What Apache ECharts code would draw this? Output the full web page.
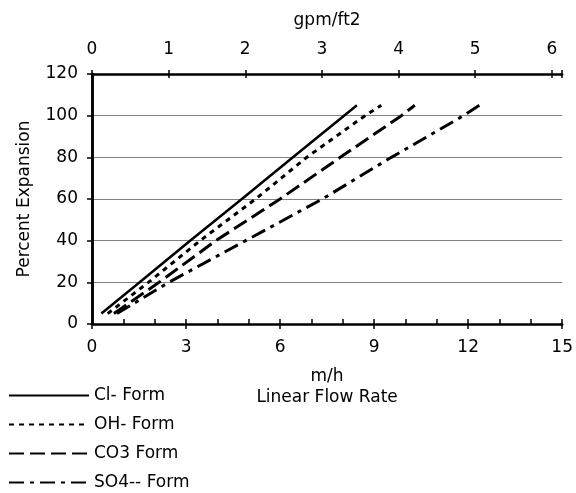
<!DOCTYPE html>
<html>
<head>
<meta charset="utf-8">
<script src="https://cdn.jsdelivr.net/npm/echarts@6/dist/echarts.min.js"></script>
<style>html,body{margin:0;padding:0;background:#fff;}#c{width:576px;height:493px;}</style>
</head>
<body>
<div id="c"></div>
<script>
var expansion = [5, 20, 40, 60, 80, 100, 105];
var clForm  = [0.3, 1.52, 3.13, 4.78, 6.41, 8.04, 8.45];
var ohForm  = [0.5, 1.80, 3.45, 5.22, 6.85, 8.71, 9.23];
var co3Form = [0.7, 2.14, 3.95, 6.00, 7.92, 9.87, 10.3];
var so4Form = [0.8, 2.45, 4.90, 7.35, 9.55, 11.85, 12.36];
var seriesNames = ['Cl- Form', 'OH- Form', 'CO3 Form', 'SO4-- Form'];
var mhTicks = [0, 3, 6, 9, 12, 15];
var gpmTicks = [0, 1, 2, 3, 4, 5, 6];
var M_PER_GPM = 2.4448; // 1 gpm/ft2 = 2.4448 m/h

function pairs(xs) { return xs.map(function (x, i) { return [x, expansion[i]]; }); }

var FONT = 'DejaVu Sans';
var FS = 17;
var chart = echarts.init(document.getElementById('c'));
var styles = [
  { type: 'solid', width: 2.5 },
  { type: [5, 5], width: 3 },
  { type: [15, 6], width: 3 },
  { type: [15, 6, 4, 6], width: 3 }
];
var datas = [clForm, ohForm, co3Form, so4Form];

chart.setOption({
  animation: false,
  backgroundColor: '#fff',
  grid: { left: 92, right: 11, top: 74, bottom: 169 },
  legend: {
    orient: 'vertical', left: 8, top: 387, padding: 0,
    itemWidth: 80, itemHeight: 14, itemGap: 12,
    itemStyle: { opacity: 0, borderWidth: 0 },
    textStyle: { fontFamily: FONT, fontSize: FS, color: '#000' },
    data: seriesNames
  },
  xAxis: [
    {
      type: 'value', position: 'bottom', min: 0, max: 15, interval: 3,
      axisLine: { show: true, lineStyle: { color: '#000', width: 2.5 } },
      axisTick: { show: true, inside: false, length: 5, lineStyle: { color: '#000', width: 1.5 } },
      axisLabel: { margin: 15, fontFamily: FONT, fontSize: FS, color: '#000',
        formatter: function (v) { return mhTicks.indexOf(v) >= 0 ? String(v) : ''; } },
      splitLine: { show: false },
      name: 'm/h', nameLocation: 'middle', nameGap: 44,
      nameTextStyle: { fontFamily: FONT, fontSize: FS, color: '#000' }
    },
    {
      type: 'value', position: 'bottom', min: 0, max: 15, interval: 1,
      axisLine: { show: false },
      axisTick: { show: true, inside: true, length: 5, lineStyle: { color: '#000', width: 1.5 } },
      axisLabel: { show: false },
      splitLine: { show: false },
      name: 'Linear Flow Rate', nameLocation: 'middle', nameGap: 65,
      nameTextStyle: { fontFamily: FONT, fontSize: FS, color: '#000' }
    },
    {
      type: 'value', position: 'top', min: 0, max: 15 / M_PER_GPM, interval: 1,
      axisLine: { show: true, lineStyle: { color: '#000', width: 2.5 } },
      axisTick: { show: true, inside: false, length: 4, lineStyle: { color: '#000', width: 1.5 } },
      axisLabel: { margin: 16, fontFamily: FONT, fontSize: FS, color: '#000',
        formatter: function (v) { return gpmTicks.indexOf(v) >= 0 ? String(v) : ''; } },
      splitLine: { show: false },
      name: 'gpm/ft2', nameLocation: 'middle', nameGap: 45,
      nameTextStyle: { fontFamily: FONT, fontSize: FS, color: '#000' }
    },
    {
      type: 'value', position: 'top', min: 0, max: 15 / M_PER_GPM, interval: 1,
      axisLine: { show: false },
      axisTick: { show: true, inside: true, length: 4, lineStyle: { color: '#000', width: 1.5 } },
      axisLabel: { show: false },
      splitLine: { show: false }
    }
  ],
  yAxis: [
    {
      type: 'value', position: 'left', min: 0, max: 120, interval: 20,
      axisLine: { show: true, lineStyle: { color: '#000', width: 2.5 } },
      axisTick: { show: true, inside: false, length: 5, lineStyle: { color: '#000', width: 1.5 } },
      axisLabel: { margin: 14, fontFamily: FONT, fontSize: FS, color: '#000' },
      splitLine: { show: true, lineStyle: { color: '#808080', width: 1 } },
      name: 'Percent Expansion', nameLocation: 'middle', nameGap: 59,
      nameTextStyle: { fontFamily: FONT, fontSize: FS, color: '#000' }
    },
    {
      type: 'value', position: 'right', min: 0, max: 120, interval: 20,
      axisLine: { show: true, lineStyle: { color: '#000', width: 2.5 } },
      axisTick: { show: false }, axisLabel: { show: false }, splitLine: { show: false }
    }
  ],
  series: seriesNames.map(function (n, i) {
    return {
      name: n, type: 'line', xAxisIndex: 0, yAxisIndex: 0,
      symbol: 'none', showSymbol: false,
      lineStyle: { color: '#000', width: styles[i].width, type: styles[i].type },
      itemStyle: { color: '#000' },
      data: pairs(datas[i])
    };
  })
});
</script>
</body>
</html>
